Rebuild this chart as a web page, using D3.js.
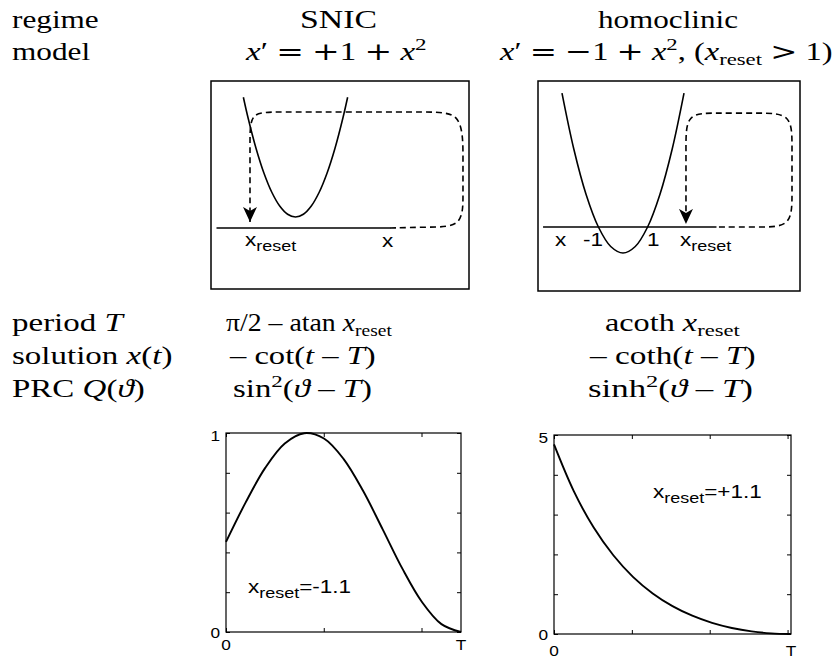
<!DOCTYPE html>
<html><head><meta charset="utf-8">
<script src="https://cdn.jsdelivr.net/npm/d3@7"></script>
<style>body{margin:0;background:#fff} svg{display:block}</style>
</head><body>
<svg id="c" width="836" height="657"></svg>
<script>
// ---------------- data ----------------
const rowHeads = ["regime", "model"];
const regimeNames = ["SNIC", "homoclinic"];
const modelEqs = [
  [["x","i"],["′ ","r"],["=","op"],[" ","r"],["+","op"],["1 ","r"],["+","op"],[" ","r"],["x","i"],["2","sup"]],
  [["x","i"],["′ ","r"],["=","op"],[" ","r"],["−","op"],["1 ","r"],["+","op"],[" ","r"],["x","i"],["2","sup"],
   [", (","r"],["x","i"],["reset","sub"],[" ","r"],[">","op"],[" 1)","r"]]
];
const lowerHeads = [
  [["period ","r"],["T","i"]],
  [["solution ","r"],["x","i"],["(","r"],["t","i"],[")","r"]],
  [["PRC ","r"],["Q","i"],["(","r"],["ϑ","i"],[")","r"]]
];
const periodEqs = [
  [["π/2 – atan ","r"],["x","i"],["reset","sub"]],
  [["acoth ","r"],["x","i"],["reset","sub"]]
];
const solutionEqs = [
  [["– cot(","r"],["t","i"],[" – ","r"],["T","i"],[")","r"]],
  [["– coth(","r"],["t","i"],[" – ","r"],["T","i"],[")","r"]]
];
const prcEqs = [
  [["sin","r"],["2","sup"],["(","r"],["ϑ","i"],[" – ","r"],["T","i"],[")","r"]],
  [["sinh","r"],["2","sup"],["(","r"],["ϑ","i"],[" – ","r"],["T","i"],[")","r"]]
];

// schematic (phase line) data, in model units
const snicParabolaX = [-3.3,-3,-2.5,-2,-1.5,-1,-0.5,0,0.5,1,1.5,2,2.5,3,3.3];
const snicParabolaY = [11.89,10,7.25,5,3.25,2,1.25,1,1.25,2,3.25,5,7.25,10,11.89];
const homParabolaX = [-2.48,-2,-1.5,-1,-0.5,0,0.5,1,1.5,2,2.48];
const homParabolaY = [5.15,3,1.25,0,-0.75,-1,-0.75,0,1.25,3,5.15];
const snicAxis = [-5, 6];
const homAxis = [-3.25, 3.8];
const snicLoopX = [5.98,8.51,10.6,10.6,10.6,10.6,8.51,-1.3,-2.88,-2.88,-2.88,-2.88];
const snicLoopY = [0,0.09,0.09,3.0,6.18,10.55,10.55,10.55,10.55,8.0,2.55,0.55];
const homLoopX = [3.9,5.57,6.87,6.87,6.87,6.87,5.57,3.74,2.56,2.56,2.56,2.56];
const homLoopY = [0,0,0,1.23,3.15,4.38,4.38,4.38,4.38,3.15,1.04,0.12];
const snicLabels = [[["x","r"],["reset","sub"]], [["x","r"]]];
const homLabels = [[["x","r"]], [["-1","r"]], [["1","r"]], [["x","r"],["reset","sub"]]];

// PRC data
const periodT = [2.404, 1.522];
const prcTheta1 = [0,0.200,0.401,0.601,0.801,1.002,1.202,1.402,1.603,1.803,2.003,2.204,2.404];
const prcQ1 = [0.4525,0.6501,0.8247,0.9474,0.9990,0.9721,0.8701,0.7095,0.5158,0.3196,0.1521,0.0396,0];
const prcTheta2 = [0,0.127,0.254,0.381,0.507,0.634,0.761,0.888,1.015,1.142,1.269,1.395,1.522];
const prcQ2 = [4.762,3.589,2.681,1.978,1.436,1.019,0.700,0.459,0.280,0.152,0.066,0.016,0];
const xTicks1 = [0,1,2], yTicks1 = [0,0.2,0.4,0.6,0.8,1];
const xTicks2 = [0,0.5,1,1.5], yTicks2 = [0,1,2,3,4,5];
const yMax = [1, 5];
const yTopLabels = ["1", "5"];
const resetLabels = [[["x","r"],["reset","sub"],["=-1.1","r"]], [["x","r"],["reset","sub"],["=+1.1","r"]]];

// ---------------- drawing ----------------
const svg = d3.select("#c");
const SERIF = "'Liberation Serif','Times New Roman',serif";
const OPS = "'DejaVu Serif','Liberation Serif',serif";
const SANS = "'Liberation Sans',Arial,Helvetica,sans-serif";

function rich(g, segs, x, y, anchor, o, span) {
  const size = o.size;
  const t = g.append("text")
    .attr("transform", `translate(${x},${y}) scale(${o.sx},1)`)
    .attr("text-anchor", anchor)
    .style("font-family", o.family)
    .style("font-size", size + "px")
    .attr("fill", "#000");
  let shift = 0;
  segs.forEach(([s, st]) => {
    const ts = t.append("tspan").text(s.replace(/ /g, "\u00A0"));
    let target = 0, fs = size;
    if (st === "i") ts.style("font-style", "italic");
    if (st === "op") ts.style("font-family", OPS).style("font-weight", "300");
    if (st === "sub") { target = o.subShift; fs = size * o.subScale; }
    if (st === "sup") { target = -size * 0.42; fs = size * 0.7; }
    ts.style("font-size", fs + "px").attr("dy", target - shift);
    shift = target;
  });
  if (span) {
    t.attr("text-anchor", "start").attr("transform", `translate(0,0)`);
    const w = t.node().getBBox().width;
    const k = (span[1] - span[0]) / w;
    t.attr("transform", `translate(${span[0]},${y}) scale(${k},1)`);
  }
  return t;
}
const serifOpt = {size: 25, family: SERIF, subScale: 0.7, subShift: 4.5, sx: 1.25};
const headOpt = {size: 25, family: SERIF, subScale: 0.7, subShift: 4.5, sx: 1.32};
const sansOpt = {size: 18, family: SANS, subScale: 0.8, subShift: 5, sx: 1.25};
const tickOpt = {size: 15, family: SANS, subScale: 0.8, subShift: 4, sx: 1.15};

// text table layout
const labelX = 12;
const topRowsY = [28, 60], lowRowsY = [331, 364, 397];
const nameSpans = [[300, 377], [598, 738]];
const modelSpans = [[246, 428], [500, 834]];
const lowSpans = [
  [[226, 392], [605, 740]],
  [[230, 377], [590, 757]],
  [[233, 372], [588, 753]]
];
rowHeads.forEach((h, i) => rich(svg, [[h, "r"]], labelX, topRowsY[i], "start", serifOpt));
regimeNames.forEach((h, i) => rich(svg, [[h, "r"]], 0, topRowsY[0], "start", serifOpt, nameSpans[i]));
modelEqs.forEach((h, i) => rich(svg, h, 0, topRowsY[1], "start", serifOpt, modelSpans[i]));
lowerHeads.forEach((h, i) => rich(svg, h, labelX, lowRowsY[i], "start", headOpt));
[periodEqs, solutionEqs, prcEqs].forEach((row, r) =>
  row.forEach((h, i) => rich(svg, h, 0, lowRowsY[r], "start", serifOpt, lowSpans[r][i])));

// arrow marker
const defs = svg.append("defs");
defs.append("marker").attr("id", "arr").attr("markerUnits", "userSpaceOnUse")
  .attr("markerWidth", 20).attr("markerHeight", 20).attr("refX", 15).attr("refY", 7)
  .attr("orient", "auto")
  .append("path").attr("d", "M0,0 L15,7 L0,14 L4,7 Z").attr("fill", "#000");

// schematic boxes
function schematic(box, sx, sy, parX, parY, axis, loopX, loopY) {
  const g = svg.append("g");
  g.append("rect").attr("x", box.x0).attr("y", box.y0)
    .attr("width", box.x1 - box.x0).attr("height", box.y1 - box.y0)
    .attr("fill", "none").attr("stroke", "#000").attr("stroke-width", 1.5);
  g.append("line").attr("x1", sx(axis[0])).attr("x2", sx(axis[1]))
    .attr("y1", sy(0)).attr("y2", sy(0)).attr("stroke", "#000").attr("stroke-width", 1.6);
  g.append("path").datum(parX.map((v, i) => [v, parY[i]]))
    .attr("d", d3.line().x(d => sx(d[0])).y(d => sy(d[1])).curve(d3.curveCatmullRom))
    .attr("fill", "none").attr("stroke", "#000").attr("stroke-width", 1.6);
  g.append("path").datum(loopX.map((v, i) => [v, loopY[i]]))
    .attr("d", d3.line().x(d => sx(d[0])).y(d => sy(d[1])).curve(d3.curveBasis))
    .attr("fill", "none").attr("stroke", "#000").attr("stroke-width", 1.6)
    .attr("stroke-dasharray", "6,4").attr("marker-end", "url(#arr)");
  return g;
}
const box1 = {x0: 211, y0: 81, x1: 469, y1: 289};
const box2 = {x0: 538, y0: 81, x1: 800, y1: 291};
const sx1 = d3.scaleLinear().domain([-5, 11]).range([216.5, 469.3]);
const sy1 = d3.scaleLinear().domain([0, 12]).range([228, 96]);
const sx2 = d3.scaleLinear().domain([-3.5, 7.5]).range([536.9, 807.5]);
const sy2 = d3.scaleLinear().domain([-1, 5]).range([253, 97]);
const g1 = schematic(box1, sx1, sy1, snicParabolaX, snicParabolaY, snicAxis, snicLoopX, snicLoopY);
const g2 = schematic(box2, sx2, sy2, homParabolaX, homParabolaY, homAxis, homLoopX, homLoopY);
rich(g1, snicLabels[0], 245, 246, "start", sansOpt);
rich(g1, snicLabels[1], 382, 247, "start", sansOpt);
const homLabX = [555, 583, 647, 680];
homLabels.forEach((l, i) => rich(g2, l, homLabX[i], 246, "start", sansOpt));

// PRC plots
function prcPlot(area, T, xs0, ys0, xt, yt, ym, topLab, bottomY, resetLab, resetPos) {
  const g = svg.append("g");
  const x = d3.scaleLinear().domain([0, T]).range([area.x0, area.x1]);
  const y = d3.scaleLinear().domain([0, ym]).range([area.y1, area.y0]);
  const strip = sel => { sel.select(".domain").remove(); sel.selectAll("text").remove();
    sel.selectAll("line").attr("stroke", "#000").attr("stroke-width", 1); };
  g.append("g").attr("transform", `translate(0,${area.y1})`)
    .call(d3.axisBottom(x).tickValues(xt).tickSize(-4)).call(strip);
  g.append("g").attr("transform", `translate(0,${area.y0})`)
    .call(d3.axisTop(x).tickValues(xt).tickSize(-4)).call(strip);
  g.append("g").attr("transform", `translate(${area.x0},0)`)
    .call(d3.axisLeft(y).tickValues(yt).tickSize(-4)).call(strip);
  g.append("g").attr("transform", `translate(${area.x1},0)`)
    .call(d3.axisRight(y).tickValues(yt).tickSize(-4)).call(strip);
  g.append("rect").attr("x", area.x0).attr("y", area.y0)
    .attr("width", area.x1 - area.x0).attr("height", area.y1 - area.y0)
    .attr("fill", "none").attr("stroke", "#000").attr("stroke-width", 1.2);
  g.append("path").datum(xs0.map((v, i) => [v, ys0[i]]))
    .attr("d", d3.line().x(d => x(d[0])).y(d => y(d[1])).curve(d3.curveCatmullRom))
    .attr("fill", "none").attr("stroke", "#000").attr("stroke-width", 1.9);
  rich(g, [[topLab, "r"]], area.x0 - 6, y(ym) + 8, "end", tickOpt);
  rich(g, [["0", "r"]], area.x0 - 6, y(0) + 6, "end", tickOpt);
  rich(g, [["0", "r"]], x(0), bottomY, "middle", tickOpt);
  rich(g, [["T", "r"]], x(T), bottomY, "middle", tickOpt);
  rich(g, resetLab, resetPos[0], resetPos[1], "start", sansOpt);
}
prcPlot({x0: 226, x1: 461, y0: 433, y1: 632}, periodT[0], prcTheta1, prcQ1, xTicks1, yTicks1,
  yMax[0], yTopLabels[0], 650, resetLabels[0], [248, 593]);
prcPlot({x0: 554, x1: 791, y0: 435, y1: 634}, periodT[1], prcTheta2, prcQ2, xTicks2, yTicks2,
  yMax[1], yTopLabels[1], 656, resetLabels[1], [653, 498]);
</script>
</body></html>
